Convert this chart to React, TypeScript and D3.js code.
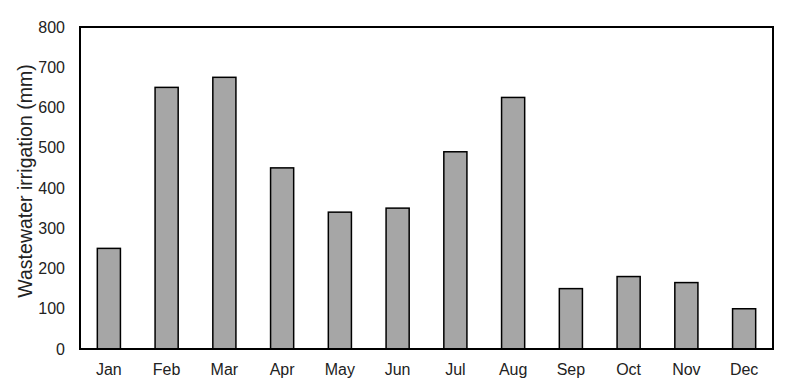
import React from "react";
import * as d3 from "d3";

const months = ["Jan", "Feb", "Mar", "Apr", "May", "Jun", "Jul", "Aug", "Sep", "Oct", "Nov", "Dec"];
const irrigation = [250, 650, 675, 450, 340, 350, 490, 625, 150, 180, 165, 100];
const yTicks = [0, 100, 200, 300, 400, 500, 600, 700, 800];

export default function App() {
  const W = 800, H = 384;
  const left = 80, right = 773, top = 27, bottom = 349;
  const x = d3.scaleBand<string>().domain(months).range([left, right]).paddingInner(0.6).paddingOuter(0.3);
  const y = d3.scaleLinear().domain([0, 800]).range([bottom, top]);
  const font = "Liberation Sans, Arial, sans-serif";
  return (
    <svg width={W} height={H} style={{ position: "absolute", left: 0, top: 0, background: "#fff" }}>
      {months.map((m, i) => (
        <rect key={m} x={x(m)} y={y(irrigation[i])} width={x.bandwidth()} height={bottom - y(irrigation[i])}
          fill="#a6a6a6" stroke="#000" strokeWidth={1.5} />
      ))}
      <rect x={left} y={top} width={right - left} height={bottom - top} fill="none" stroke="#000" strokeWidth={2} />
      {yTicks.map(t => (
        <text key={t} x={65} y={y(t)} dy="0.35em" textAnchor="end" fontFamily={font} fontSize={16} fill="#222">{t}</text>
      ))}
      {months.map(m => (
        <text key={m} x={(x(m) as number) + x.bandwidth() / 2} y={369} dy="0.35em" textAnchor="middle" fontFamily={font} fontSize={16} fill="#222">{m}</text>
      ))}
      <text transform={`translate(25,181) rotate(-90)`} textAnchor="middle" dy="0.35em" fontFamily={font} fontSize={19.5} fill="#222">Wastewater irrigation (mm)</text>
    </svg>
  );
}
